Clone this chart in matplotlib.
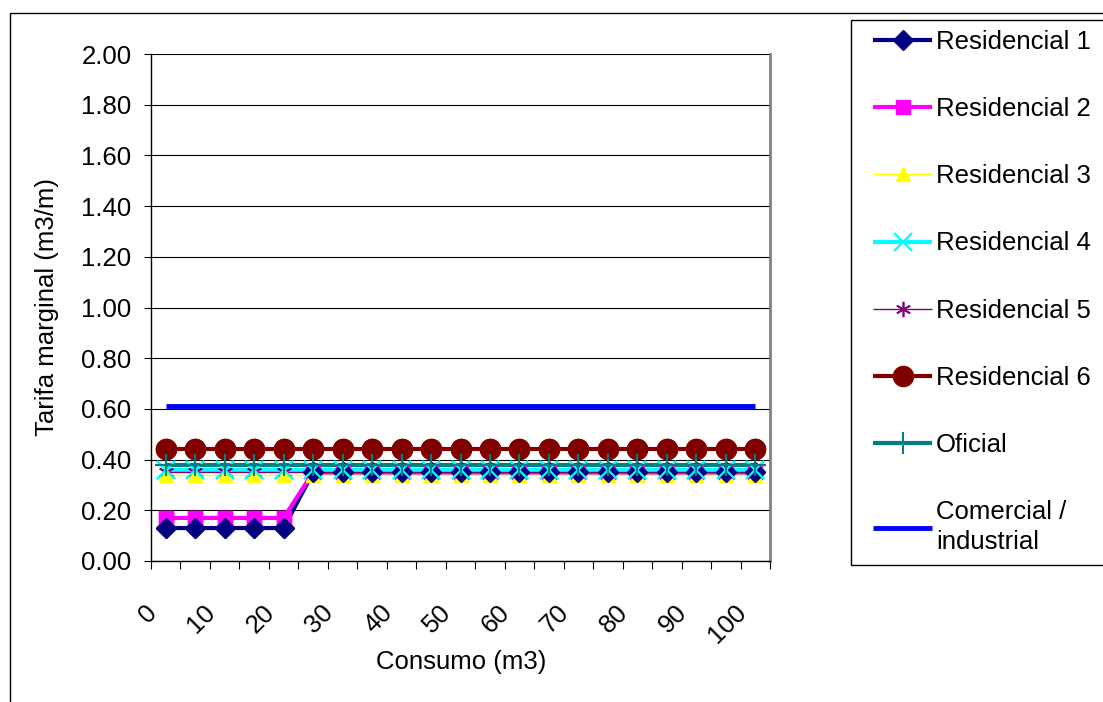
import numpy as np
import matplotlib
matplotlib.use("Agg")
import matplotlib.pyplot as plt
from matplotlib.patches import Rectangle

plt.rcParams['font.family'] = ['Liberation Sans', 'DejaVu Sans']

# ---- data ----
consumo = [0, 5, 10, 15, 20, 25, 30, 35, 40, 45, 50, 55, 60, 65, 70, 75, 80, 85, 90, 95, 100]
res1 = [0.13, 0.13, 0.13, 0.13, 0.13] + [0.35] * 16
res2 = [0.17, 0.17, 0.17, 0.17, 0.17] + [0.35] * 16
res3 = [0.34] * 21
res4 = [0.36] * 21
res5 = [0.35] * 21
res6 = [0.44] * 21
oficial = [0.38] * 21
comercial = [0.61] * 21
series_names = ["Residencial 1", "Residencial 2", "Residencial 3", "Residencial 4",
                "Residencial 5", "Residencial 6", "Oficial", "Comercial /\nindustrial"]
yticks = [0.0, 0.2, 0.4, 0.6, 0.8, 1.0, 1.2, 1.4, 1.6, 1.8, 2.0]

W, H = 1103, 702
fig = plt.figure(figsize=(W / 100, H / 100), dpi=100)
FS = 18.5

# outer chart border
fig.patches.append(Rectangle((10 / W, 0 - 0.05), 1.2, 1 - 13 / H + 0.05, transform=fig.transFigure,
                             fill=False, edgecolor='black', linewidth=1.0))

ax = fig.add_axes([151 / W, 1 - 561 / H, (770 - 151) / W, (561 - 54) / H])
x = np.arange(len(consumo))

styles = [
    dict(color='#000080', lw=3.0, marker='D', ms=10.5, mew=1, mz=3.3),
    dict(color='#FF00FF', lw=3.0, marker='s', ms=9.5, mew=1, mz=3.1),
    dict(color='#FFFF00', lw=1.0, marker='^', ms=10, mew=1, mz=3.2),
    dict(color='#00FFFF', lw=3.0, marker='x', ms=13.5, mew=1.6, mz=3.5),
    dict(color='#800080', lw=1.0, marker=(6, 2, 0), ms=11, mew=1.2, mz=3.0),
    dict(color='#800000', lw=3.0, marker='o', ms=14.5, mew=1, mz=3.6),
    dict(color='#008080', lw=3.0, marker='+', ms=16, mew=1.5, mz=3.7),
    dict(color='#0000FF', lw=3.5, marker='None', ms=0, mew=0, mz=3.8),
]
data = [res1, res2, res3, res4, res5, res6, oficial, comercial]

handles = []
for vals, st, name in zip(data, styles, series_names):
    h, = ax.plot(x, vals, color=st['color'], lw=st['lw'], marker=st['marker'],
                 ms=st['ms'], mew=st['mew'], mfc=st['color'], mec=st['color'],
                 label=name, zorder=2, solid_capstyle='butt', clip_on=False)
    handles.append(h)
# markers on top of all lines
for vals, st in zip(data, styles):
    if st['marker'] != 'None':
        ax.plot(x, vals, ls='none', marker=st['marker'], ms=st['ms'], mew=st['mew'],
                mfc=st['color'], mec=st['color'], zorder=st['mz'], clip_on=False)

ax.set_xlim(-0.5, len(consumo) - 0.5)
ax.set_ylim(0, 2.0)
ax.set_yticks(yticks)
ax.set_yticklabels([f"{v:.2f}" for v in yticks], fontsize=FS)
ax.yaxis.grid(True, color='black', lw=0.8)
ax.set_axisbelow(True)
ax.tick_params(axis='y', direction='out', length=5, width=0.8, pad=9, colors='black')

ax.set_xticks(np.arange(-0.5, len(consumo), 1.0))
ax.set_xticklabels([])
ax.tick_params(axis='x', direction='out', length=6, width=0.8)
for i in range(0, len(consumo), 2):
    ax.annotate(str(consumo[i]), xy=(x[i], 0), xycoords=('data', 'axes fraction'),
                xytext=(-13, -48), textcoords='offset pixels', rotation=45,
                ha='right', va='center', rotation_mode='anchor', fontsize=FS)

for s in ['left', 'bottom']:
    ax.spines[s].set_color('black')
    ax.spines[s].set_linewidth(1.0)
ax.spines['top'].set_visible(False)
ax.spines['right'].set_color('#808080')
ax.spines['right'].set_linewidth(2.0)

fig.text(47 / W, 1 - 307 / H, "Tarifa marginal (m3/m)", rotation=90, ha='center', va='center', fontsize=FS)
fig.text(461 / W, 1 - 662 / H, "Consumo (m3)", ha='center', va='center', fontsize=FS)

# legend frame
fig.patches.append(Rectangle((851 / W, 1 - 565 / H), 1.0, (565 - 20) / H, transform=fig.transFigure,
                             fill=False, edgecolor='black', linewidth=1.0))
leg = fig.legend(handles=handles, loc='upper left', bbox_to_anchor=(873 / W, 1 - 30 / H),
                 frameon=False, fontsize=FS, handlelength=2.3, handletextpad=0.15,
                 labelspacing=1.68, borderpad=0.0, borderaxespad=0.0)
for t in leg.get_texts():
    t.set_linespacing(1.3)

fig.savefig("out.png", dpi=100)
